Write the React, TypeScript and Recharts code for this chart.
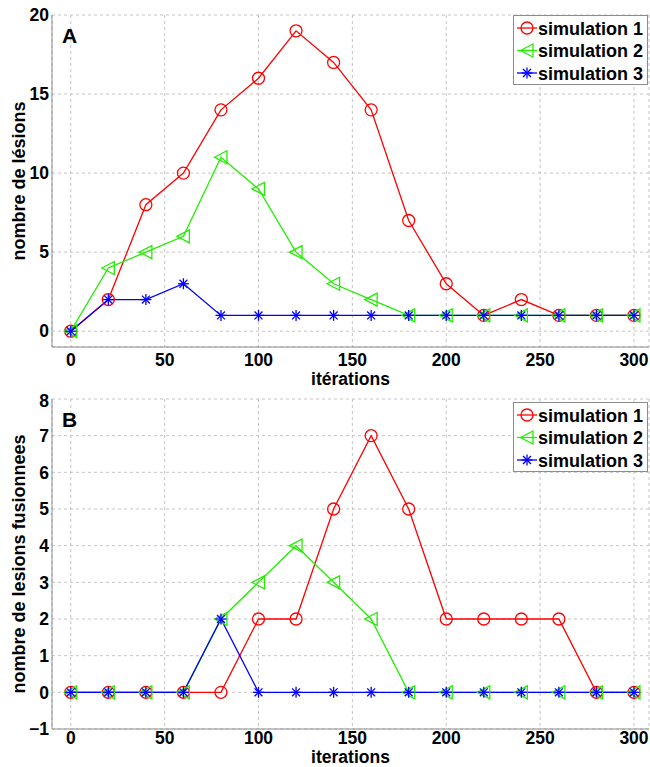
import React from "react";
import { CartesianGrid, Line, LineChart, XAxis, YAxis } from "recharts";

const iterations = [0, 20, 40, 60, 80, 100, 120, 140, 160, 180, 200, 220, 240, 260, 280, 300];

// panel A: nombre de lésions
const lesionsSim1 = [0, 2, 8, 10, 14, 16, 19, 17, 14, 7, 3, 1, 2, 1, 1, 1];
const lesionsSim2 = [0, 4, 5, 6, 11, 9, 5, 3, 2, 1, 1, 1, 1, 1, 1, 1];
const lesionsSim3 = [0, 2, 2, 3, 1, 1, 1, 1, 1, 1, 1, 1, 1, 1, 1, 1];

// panel B: nombre de lesions fusionnees
const fusedSim1 = [0, 0, 0, 0, 0, 2, 2, 5, 7, 5, 2, 2, 2, 2, 0, 0];
const fusedSim2 = [0, 0, 0, 0, 2, 3, 4, 3, 2, 0, 0, 0, 0, 0, 0, 0];
const fusedSim3 = [0, 0, 0, 0, 2, 0, 0, 0, 0, 0, 0, 0, 0, 0, 0, 0];

const xTicks = [0, 50, 100, 150, 200, 250, 300];
const lesionTicks = [0, 5, 10, 15, 20];
const fusedTicks = [-1, 0, 1, 2, 3, 4, 5, 6, 7, 8];
const seriesNames = ["simulation 1", "simulation 2", "simulation 3"];

const FONT = "'Liberation Sans', Arial, Helvetica, sans-serif";
const RED = "#ff0000";
const GREEN = "#22ee00";
const BLUE = "#0000ff";
const BOX = "#8c8c8c";
const GRID = "#c4c4c4";
const SW = 1.3;

function toRows(a: number[], b: number[], c: number[]) {
  return iterations.map((it, i) => ({ it, s1: a[i], s2: b[i], s3: c[i] }));
}

function circleMark(cx: number, cy: number) {
  return <circle cx={cx} cy={cy} r={6} fill="none" stroke={RED} strokeWidth={SW} />;
}

function triangleMark(cx: number, cy: number) {
  const pts = `${cx - 6.5},${cy} ${cx + 6},${cy - 6.5} ${cx + 6},${cy + 6.5}`;
  return <polygon points={pts} fill="none" stroke={GREEN} strokeWidth={SW} />;
}

function starMark(cx: number, cy: number) {
  const r = 5.5;
  const d = r * 0.72;
  return (
    <g stroke={BLUE} strokeWidth={SW}>
      <line x1={cx - r} y1={cy} x2={cx + r} y2={cy} />
      <line x1={cx} y1={cy - r} x2={cx} y2={cy + r} />
      <line x1={cx - d} y1={cy - d} x2={cx + d} y2={cy + d} />
      <line x1={cx - d} y1={cy + d} x2={cx + d} y2={cy - d} />
    </g>
  );
}

const markers = [circleMark, triangleMark, starMark];
const colors = [RED, GREEN, BLUE];

function dotFor(k: number) {
  return (p: any) => <g key={`m${k}-${p.index}`}>{markers[k](p.cx, p.cy)}</g>;
}

function LegendBox({ top }: { top: number }) {
  return (
    <svg
      width={135}
      height={70}
      style={{ position: "absolute", left: 513, top, fontFamily: FONT }}
    >
      <rect x={0.5} y={0.5} width={134} height={69} fill="#fff" stroke={BOX} />
      {seriesNames.map((name, i) => {
        const cy = 13 + i * 22.5;
        return (
          <g key={name}>
            <line x1={4} y1={cy} x2={24} y2={cy} stroke={colors[i]} strokeWidth={SW} />
            {markers[i](14, cy)}
            <text x={25} y={cy + 6.5} fontSize={18} fontWeight="bold" fill="#000">
              {name}
            </text>
          </g>
        );
      })}
    </svg>
  );
}

type PanelProps = {
  rows: { it: number; s1: number; s2: number; s3: number }[];
  yDomain: [number, number];
  yTicks: number[];
  yLabel: string;
  xLabel: string;
  letter: string;
  height: number;
  top: number;
  xAxisHeight: number;
  tickMargin: number;
  labelOffset: number;
  legendTop: number;
  letterTop: number;
};

function Panel(p: PanelProps) {
  const tickStyle = { fill: "#000", fontSize: 17.5, fontWeight: "bold", fontFamily: FONT };
  const xTitleStyle = { fill: "#000", fontSize: 17.5, fontWeight: "bold", fontFamily: FONT };
  const yTitleStyle = { fill: "#000", fontSize: 18, fontWeight: "bold", fontFamily: FONT, textAnchor: "middle" };
  return (
    <div style={{ position: "relative", width: 650, height: p.height }}>
      <LineChart
        width={650}
        height={p.height}
        data={p.rows}
        margin={{ top: p.top, right: 1, bottom: 0, left: 0 }}
      >
        <CartesianGrid stroke={GRID} strokeDasharray="3 3" />
        <XAxis
          dataKey="it"
          type="number"
          domain={[-10, 308]}
          ticks={xTicks}
          height={p.xAxisHeight}
          tickLine={false}
          tickSize={0}
          tickMargin={p.tickMargin}
          axisLine={{ stroke: BOX }}
          tick={tickStyle}
          label={{ value: p.xLabel, position: "insideBottom", offset: p.labelOffset, style: xTitleStyle }}
        />
        <XAxis xAxisId="top" orientation="top" height={0} tick={false} tickLine={false} axisLine={{ stroke: BOX }} />
        <YAxis
          type="number"
          domain={p.yDomain}
          ticks={p.yTicks}
          width={52}
          tickLine={false}
          tickSize={0}
          tickMargin={3}
          axisLine={{ stroke: BOX }}
          tick={tickStyle}
          tickFormatter={(v: number) => (v < 0 ? `\u2212${Math.abs(v)}` : `${v}`)}
          label={{
            value: p.yLabel,
            angle: -90,
            position: "insideLeft",
            offset: 19,
            style: yTitleStyle,
          }}
        />
        <YAxis yAxisId="right" orientation="right" width={0} tick={false} tickLine={false} axisLine={{ stroke: BOX }} />
        <Line dataKey="s1" stroke={RED} strokeWidth={SW} dot={dotFor(0)} activeDot={false} isAnimationActive={false} />
        <Line dataKey="s2" stroke={GREEN} strokeWidth={SW} dot={dotFor(1)} activeDot={false} isAnimationActive={false} />
        <Line dataKey="s3" stroke={BLUE} strokeWidth={SW} dot={dotFor(2)} activeDot={false} isAnimationActive={false} />
      </LineChart>
      <div
        style={{
          position: "absolute",
          left: 62,
          top: p.letterTop,
          fontFamily: FONT,
          fontWeight: "bold",
          fontSize: 21,
          lineHeight: "21px",
        }}
      >
        {p.letter}
      </div>
      <LegendBox top={p.legendTop} />
    </div>
  );
}

export default function App() {
  return (
    <div style={{ width: 650, height: 767, background: "#fff" }}>
      <style>{"body{margin:0}"}</style>
      <Panel
        rows={toRows(lesionsSim1, lesionsSim2, lesionsSim3)}
        yDomain={[-1, 20]}
        yTicks={lesionTicks}
        yLabel="nombre de lésions"
        xLabel="itérations"
        letter="A"
        height={390}
        top={15}
        xAxisHeight={43}
        tickMargin={7}
        labelOffset={5}
        legendTop={15}
        letterTop={25}
      />
      <Panel
        rows={toRows(fusedSim1, fusedSim2, fusedSim3)}
        yDomain={[-1, 8]}
        yTicks={fusedTicks}
        yLabel="nombre de lesions fusionnees"
        xLabel="iterations"
        letter="B"
        height={377}
        top={9}
        xAxisHeight={38}
        tickMargin={3}
        labelOffset={4}
        legendTop={12}
        letterTop={19}
      />
    </div>
  );
}
